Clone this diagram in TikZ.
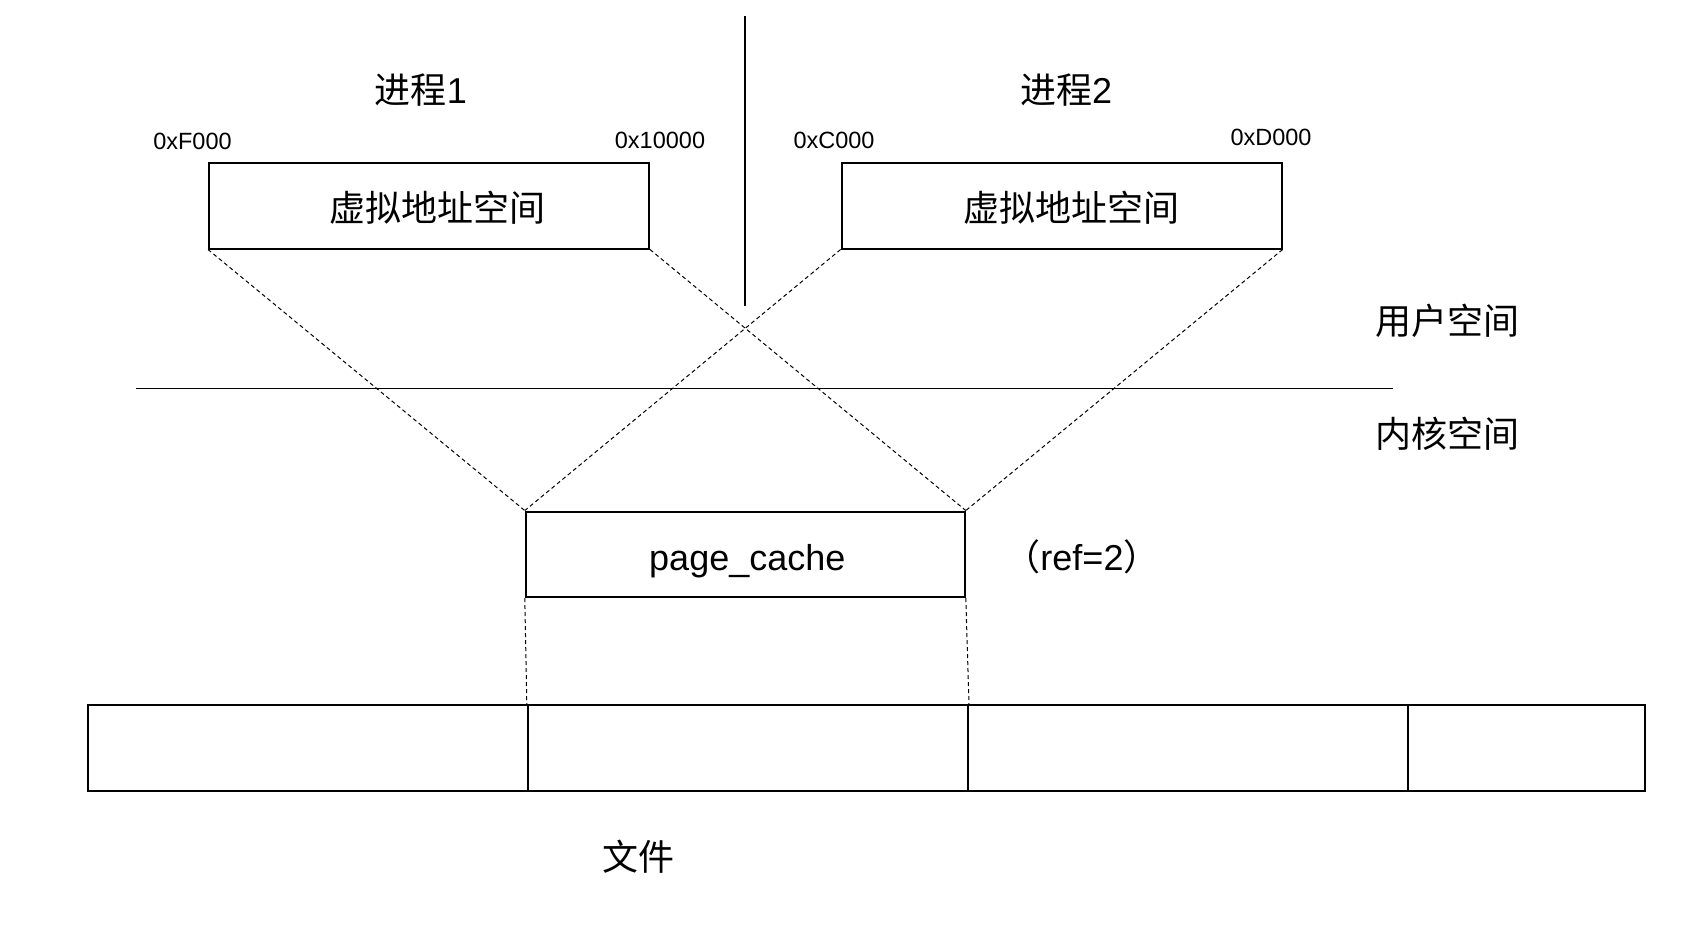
\documentclass[tikz,border=0pt]{standalone}
\usepackage{fontspec}
\setmainfont{Liberation Sans}
\newfontfamily\cjk{Noto Sans CJK SC}
\begin{document}
\begin{tikzpicture}[x=1pt,y=-1pt,
  cell/.style={draw=black,line width=2pt,inner sep=0pt,minimum height=86pt},
  big/.style={inner sep=0pt,font=\fontsize{36}{40}\selectfont},
  addr/.style={inner sep=0pt,font=\fontsize{23.5}{26}\selectfont},
  mapline/.style={draw=black,line width=1pt,dash pattern=on 4pt off 3pt},
  divider/.style={draw=black,line width=1.3pt}]
\useasboundingbox (0,0) rectangle (1696,946);
\fill[white] (0,0) rectangle (1696,946);
% separators
\coordinate (vtop) at (745,16);
\coordinate (vbot) at (745,306);
\coordinate (hl) at (136,388.5);
\coordinate (hr) at (1393,388.5);
\draw[divider] (vtop) -- (vbot);
\draw[divider,line width=1pt] (hl) -- (hr);
% titles
\node[big] (p1) at (421,90) {{\cjk 进程}1};
\node[big] (p2) at (1066,90) {{\cjk 进程}2};
\node[addr] (a1) at (192.5,141.5) {0xF000};
\node[addr] (a2) at (660,140.5) {0x10000};
\node[addr] (a3) at (834,140.5) {0xC000};
\node[addr] (a4) at (1271,137.5) {0xD000};
% virtual address boxes
\node[cell,minimum width=440pt] (b1) at (429,205.5) {};
\node[big] (t1) at ([shift={(8,2)}]b1.center) {\cjk 虚拟地址空间};
\node[cell,minimum width=440pt] (b2) at (1061.6,205.5) {};
\node[big] (t2) at ([shift={(9.5,2)}]b2.center) {\cjk 虚拟地址空间};
% space labels
\node[big] (us) at (1447,321) {\cjk 用户空间};
\node[big] (ks) at (1447,434) {\cjk 内核空间};
% page cache
\node[cell,minimum width=439pt,minimum height=85.5pt] (pc) at (745.3,554.3) {};
\node[big] (pct) at ([shift={(2,6.5)}]pc.center) {page\_cache};
\node[big] (ref) at (1082,557) {{\cjk （}ref=2{\cjk ）}};
% file cells
\node[cell,minimum width=440.2pt,minimum height=85.5pt] (f1) at (307.7,748) {};
\node[cell,minimum width=440.2pt,minimum height=85.5pt] (f2) at (747.9,748) {};
\node[cell,minimum width=440.2pt,minimum height=85.5pt] (f3) at (1188.1,748) {};
\node[cell,minimum width=236.8pt,minimum height=85.5pt] (f4) at (1526.6,748) {};
\node[big] (file) at (638,856.5) {\cjk 文件};
% mapping lines
\draw[mapline] (b1.south west) -- (pc.north west);
\draw[mapline] (b1.south east) -- (pc.north east);
\draw[mapline] (b2.south west) -- (pc.north west);
\draw[mapline] (b2.south east) -- (pc.north east);
\draw[mapline] (pc.south west) -- (f2.north west);
\draw[mapline] (pc.south east) -- (f2.north east);
\end{tikzpicture}
\end{document}
